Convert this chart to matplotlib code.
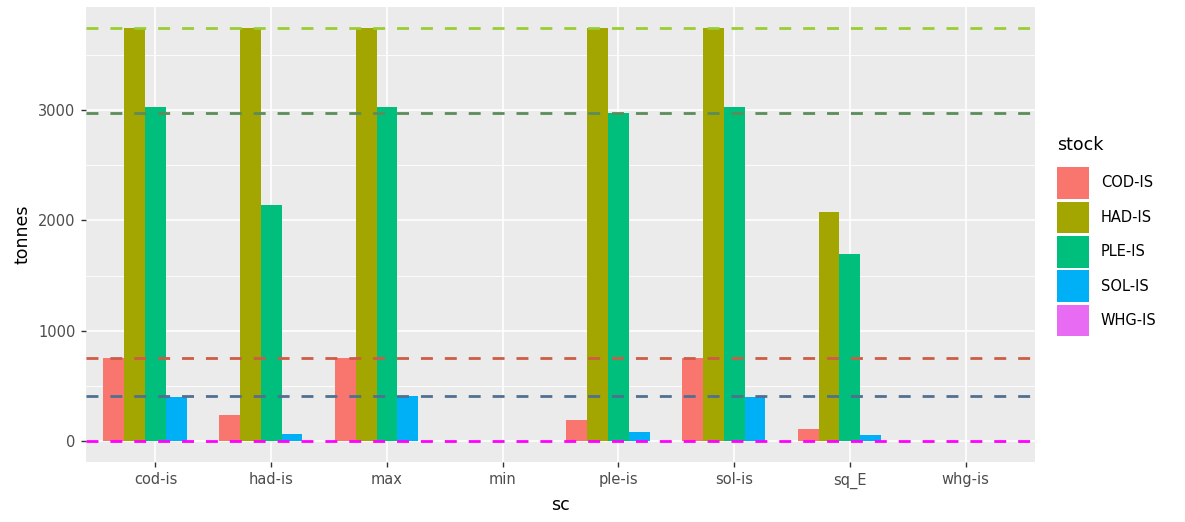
import numpy as np
import matplotlib.pyplot as plt
from matplotlib.patches import Patch

# 数据
sc = ['cod-is', 'had-is', 'max', 'min', 'ple-is', 'sol-is', 'sq_E', 'whg-is']
stocks = ['COD-IS', 'HAD-IS', 'PLE-IS', 'SOL-IS', 'WHG-IS']
cod = [752, 236, 752, 0, 190, 752, 108, 0]
had = [3745, 3745, 3745, 0, 3745, 3745, 2075, 0]
ple = [3025, 2140, 3025, 0, 2975, 3025, 1695, 0]
sol = [405, 63, 408, 0, 82, 398, 54, 0]
whg = [0, 0, 0, 0, 0, 0, 0, 0]
ref_lines = [3745, 2975, 752, 408, 0]

bar_cols = ['#F8766D', '#A3A500', '#00BF7D', '#00B0F6', '#E76BF3']
line_cols = ['#9ACD32', '#5B8C5A', '#CD5C45', '#4F7090', '#FF00FF']

fig = plt.figure(figsize=(11.85, 5.22), dpi=100)
ax = fig.add_axes([0.0726, 0.1149, 0.8008, 0.8717])
ax.set_facecolor('#EBEBEB')
for s in ax.spines.values():
    s.set_visible(False)

x = np.arange(len(sc))
w = 0.18
series = [cod, had, ple, sol, whg]
for i, vals in enumerate(series):
    ax.bar(x - 0.45 + w/2 + i*w, vals, width=w, color=bar_cols[i], zorder=2)

# 参考虚线
for v, c in zip(ref_lines, line_cols):
    ax.axhline(v, color=c, lw=2.0, ls=(0, (4.3, 4.3)), zorder=3)

ax.set_xlim(-0.6, 7.6)
ax.set_ylim(-187, 3932)
ax.set_xticks(x)
ax.set_xticklabels(sc)
ax.set_yticks([0, 1000, 2000, 3000])
ax.set_yticks([500, 1500, 2500, 3500], minor=True)
ax.grid(True, which='major', color='white', lw=1.2, zorder=0)
ax.grid(True, which='minor', axis='y', color='white', lw=0.6, zorder=0)
ax.set_axisbelow(True)
ax.tick_params(axis='both', which='major', colors='#333333', length=3.5, width=1,
               labelsize=10.5, labelcolor='#4D4D4D', pad=4)
ax.tick_params(axis='y', which='minor', length=0)
ax.set_xlabel('sc', fontsize=12.5, color='black', labelpad=5)
ax.set_ylabel('tonnes', fontsize=12.5, color='black', labelpad=5)

# 图例
fig.text(1057/1185, 1 - 136/522, 'stock', fontsize=12.5, va='top', ha='left')
handles = [Patch(facecolor=c, edgecolor='none') for c in bar_cols]
leg = fig.legend(handles, stocks, loc='upper left', bbox_to_anchor=(0.881, 1 - 154/522),
                 frameon=False, fontsize=10.5,
                 handlelength=2.2, handleheight=2.95, labelspacing=0.2, handletextpad=0.8)

fig.savefig('out.png', dpi=100)
